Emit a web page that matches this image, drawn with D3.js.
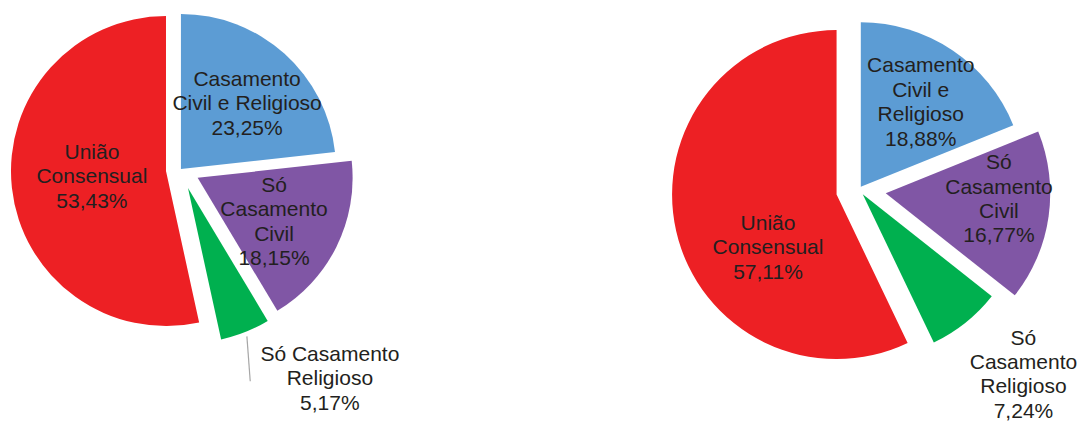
<!DOCTYPE html>
<html>
<head>
<meta charset="utf-8">
<script src="https://cdn.jsdelivr.net/npm/d3@7"></script>
<style>
  html, body { margin: 0; padding: 0; background: #fff; }
  svg { display: block; }
  text { font-family: "Liberation Sans", Arial, sans-serif; font-size: 21px; fill: #231f20; }
</style>
</head>
<body>
<svg id="chart" width="1081" height="424"></svg>
<script>
// Categories (clockwise from 12 o'clock)
const categories = [
  "Casamento Civil e Religioso",
  "Só Casamento Civil",
  "Só Casamento Religioso",
  "União Consensual"
];

// Shares (%) for each pie
const leftShares  = [23.25, 18.15, 5.17, 53.43];
const rightShares = [18.88, 16.77, 7.24, 57.11];

// How each category name is broken into lines inside each pie
const leftLabelLines = [
  ["Casamento", "Civil e Religioso"],
  ["Só", "Casamento", "Civil"],
  ["Só Casamento", "Religioso"],
  ["União", "Consensual"]
];
const rightLabelLines = [
  ["Casamento", "Civil e", "Religioso"],
  ["Só", "Casamento", "Civil"],
  ["Só", "Casamento", "Religioso"],
  ["União", "Consensual"]
];

const colors = ["#5C9CD4", "#8056A5", "#00B04F", "#ED2024"];

// Layout: pie centre, radius, per-slice explosion (px),
// label placement as [radius fraction, angle shift in degrees] from each slice's apex
const leftLayout = {
  cx: 180.6, cy: 169.4, r: 155,
  explode: [0.5, 19, 20, 14.7],
  label: [[0.603, 3.2], [0.566, 3.1], [1.53, -15.1], [0.479, 2.3]],
  leader: { index: 2, from: 1.03, to: 1.31, shift: 3.8 }
};
const rightLayout = {
  cx: 859, cy: 189.5, r: 164.5,
  explode: [3.2, 27, 6, 23],
  label: [[0.634, 1.1], [0.689, -5.6], [1.465, -3.2], [0.524, -24.5]],
  leader: null
};

const svg = d3.select("#chart");
const fmt = v => d3.format(".2f")(v).replace(".", ",") + "%";
const lineHeight = 24.4;
const capHalf = 7.5;

function polar(origin, radius, angle) {
  return [origin[0] + radius * Math.sin(angle), origin[1] - radius * Math.cos(angle)];
}

function drawPie(shares, lines, layout) {
  const arcs = d3.pie().sort(null).value(d => d)(shares);
  const arc = d3.arc().innerRadius(0).outerRadius(layout.r);
  const g = svg.append("g");

  arcs.forEach((a, i) => {
    const mid = (a.startAngle + a.endAngle) / 2;
    const apex = polar([layout.cx, layout.cy], layout.explode[i], mid);

    g.append("path")
      .attr("d", arc(a))
      .attr("transform", `translate(${apex[0]},${apex[1]})`)
      .attr("fill", colors[i]);

    a.apex = apex;
    a.mid = mid;
  });

  // leader line for an outside label
  if (layout.leader) {
    const a = arcs[layout.leader.index];
    const p0 = polar(a.apex, layout.r * layout.leader.from, a.mid);
    const p1 = polar(a.apex, layout.r * layout.leader.to, a.mid + layout.leader.shift * Math.PI / 180);
    g.append("line")
      .attr("x1", p0[0]).attr("y1", p0[1])
      .attr("x2", p1[0]).attr("y2", p1[1])
      .attr("stroke", "#A6A6A6")
      .attr("stroke-width", 1.2);
  }

  arcs.forEach((a, i) => {
    const [frac, shift] = layout.label[i];
    const pos = polar(a.apex, layout.r * frac, a.mid + shift * Math.PI / 180);
    const textLines = lines[i].concat([fmt(shares[i])]);
    const firstBaseline = pos[1] - (textLines.length - 1) * lineHeight / 2 + capHalf;
    const t = g.append("text").attr("text-anchor", "middle");
    textLines.forEach((s, k) => {
      t.append("tspan")
        .attr("x", pos[0])
        .attr("y", firstBaseline + k * lineHeight)
        .text(s);
    });
  });
}

drawPie(leftShares, leftLabelLines, leftLayout);
drawPie(rightShares, rightLabelLines, rightLayout);
</script>
</body>
</html>
